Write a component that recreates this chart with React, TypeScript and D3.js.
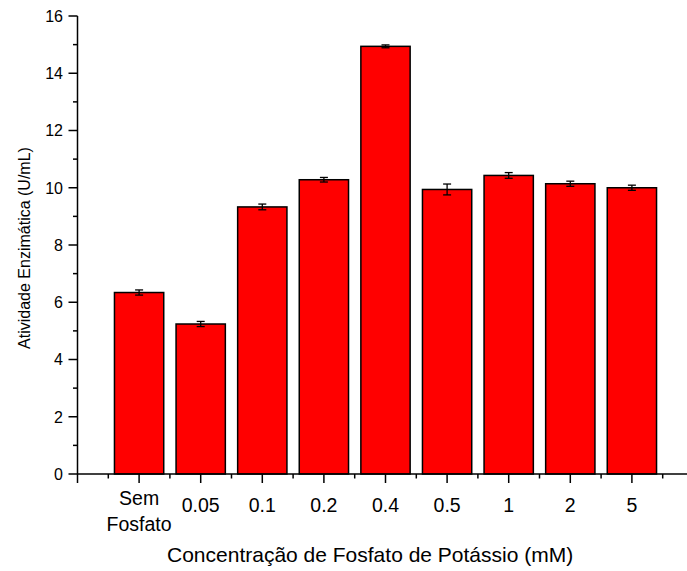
import React from "react";
import * as d3 from "d3";

const categories = ["Sem\nFosfato", "0.05", "0.1", "0.2", "0.4", "0.5", "1", "2", "5"];
const values = [6.34, 5.24, 9.33, 10.28, 14.94, 9.94, 10.43, 10.14, 10.0];
const errors = [0.09, 0.09, 0.1, 0.08, 0.05, 0.19, 0.1, 0.09, 0.09];
const yTicks = [0, 2, 4, 6, 8, 10, 12, 14, 16];
const yMinorTicks = [1, 3, 5, 7, 9, 11, 13, 15];

const W = 687;
const H = 571;
const FONT = "'Liberation Sans', Arial, sans-serif";

export default function App() {
  const x = d3.scaleLinear().domain([0, 10]).range([77.5, 693.5]);
  const y = d3.scaleLinear().domain([0, 16]).range([474, 16]);
  const step = x(1) - x(0);
  const bw = step * 0.8;
  const x0 = x(0);
  const y0 = y(0);
  const majorX = d3.range(0, 11);
  const minorX = d3.range(0.5, 10.5, 1);

  return (
    <svg width={W} height={H} style={{ position: "absolute", left: 0, top: 0, background: "#fff" }} fontFamily={FONT}>
      <rect x={0} y={0} width={W} height={H} fill="#fff" />
      {values.map((v, i) => {
        const cx = x(i + 1);
        return (
          <g key={i}>
            <rect x={cx - bw / 2} y={y(v)} width={bw} height={y0 - y(v)} fill="#ff0000" stroke="#000" strokeWidth={1.5} />
            <line x1={cx} x2={cx} y1={y(v + errors[i])} y2={y(v - errors[i])} stroke="#000" strokeWidth={1.3} />
            <line x1={cx - 4} x2={cx + 4} y1={y(v + errors[i])} y2={y(v + errors[i])} stroke="#000" strokeWidth={1.3} />
            <line x1={cx - 4} x2={cx + 4} y1={y(v - errors[i])} y2={y(v - errors[i])} stroke="#000" strokeWidth={1.3} />
          </g>
        );
      })}
      {/* y axis */}
      <line x1={x0} x2={x0} y1={y(16)} y2={y0} stroke="#000" strokeWidth={1.5} />
      {yTicks.map((t) => (
        <g key={"yt" + t}>
          <line x1={x0 - 9} x2={x0} y1={y(t)} y2={y(t)} stroke="#000" strokeWidth={1.5} />
          <text x={63} y={y(t)} dy="0.36em" textAnchor="end" fontSize={16} fill="#000">{t}</text>
        </g>
      ))}
      {yMinorTicks.map((t) => (
        <line key={"ym" + t} x1={x0 - 4.5} x2={x0} y1={y(t)} y2={y(t)} stroke="#000" strokeWidth={1.5} />
      ))}
      {/* x axis */}
      <line x1={x0} x2={W} y1={y0} y2={y0} stroke="#000" strokeWidth={1.5} />
      {majorX.map((t) => (
        <line key={"xt" + t} x1={x(t)} x2={x(t)} y1={y0} y2={y0 + 9} stroke="#000" strokeWidth={1.5} />
      ))}
      {minorX.map((t) => (
        <line key={"xm" + t} x1={x(t)} x2={x(t)} y1={y0} y2={y0 + 4.5} stroke="#000" strokeWidth={1.5} />
      ))}
      {categories.map((c, i) => {
        const lines = c.split("\n");
        const cx = x(i + 1);
        if (lines.length > 1) {
          return (
            <text key={"xl" + i} x={cx} textAnchor="middle" fontSize={19.5} fill="#000">
              <tspan x={cx} y={505}>{lines[0]}</tspan>
              <tspan x={cx} y={531}>{lines[1]}</tspan>
            </text>
          );
        }
        return (
          <text key={"xl" + i} x={cx} y={512} textAnchor="middle" fontSize={19.5} fill="#000">{c}</text>
        );
      })}
      <text x={167} y={562} textAnchor="start" fontSize={21} fill="#000">
        Concentração de Fosfato de Potássio (mM)
      </text>
      <text transform={`translate(30,248) rotate(-90)`} textAnchor="middle" fontSize={16} fill="#000">
        Atividade Enzimática (U/mL)
      </text>
    </svg>
  );
}
